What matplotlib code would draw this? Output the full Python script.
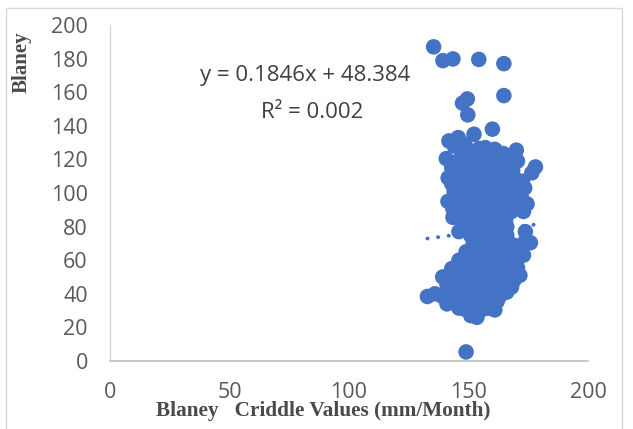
import matplotlib
matplotlib.use("Agg")
import matplotlib.pyplot as plt
from matplotlib.patches import Rectangle
import numpy as np

# Blaney-Criddle values (x) and Blaney values (y)
bc = [
    135.4, 139.3, 143.5, 154.3, 164.8, 164.8, 149.5, 147.5, 149.7, 160.0, 152.3, 149.0,
    141.8, 145.7, 144.0, 148.5,
    147.0, 151.5, 154.5, 157.0, 161.0, 164.5, 170.0,
    140.7, 143.5, 147.0, 150.5, 154.0, 157.5, 160.5, 163.5, 167.0, 170.5,
    143.0, 146.5, 152.0, 155.5, 158.5, 162.0, 165.5, 168.5, 176.5, 178.0,
    141.5, 145.0, 150.0, 153.0, 156.0, 159.5, 162.5, 166.0, 169.5, 172.5,
    143.0, 147.0, 151.0, 155.0, 158.0, 161.0, 164.0, 167.5, 170.5, 173.5,
    144.0, 149.0, 152.5, 157.0, 160.5, 163.0, 166.5, 169.5, 172.0,
    141.4, 144.5, 148.0, 151.0, 154.0, 157.0, 160.0, 163.5, 167.5, 170.5, 174.5,
    143.5, 146.8, 150.0, 153.0, 156.0, 159.0, 162.0, 165.0, 168.0, 173.0,
    143.5, 147.0, 150.5, 153.5, 156.5, 159.5, 162.5, 165.5,
    148.0, 151.0, 154.0, 157.0, 160.0, 163.0, 166.0,
    146.0, 151.0, 154.0, 157.0, 160.0, 163.0, 166.0, 173.8,
    152.0, 155.0, 158.0, 161.0, 164.0, 167.0, 170.0, 174.0, 175.9,
    149.0, 152.0, 155.0, 158.0, 161.0, 164.0, 167.0, 170.0, 173.0,
    146.0, 149.0, 152.0, 155.0, 158.0, 161.0, 164.0, 167.0, 170.0,
    143.0, 146.0, 149.0, 152.0, 155.0, 158.0, 161.0, 164.0, 167.0, 170.5,
    139.2, 142.0, 145.0, 148.0, 151.0, 154.0, 157.0, 160.0, 163.0, 166.0, 171.5, 169.0,
    141.0, 144.0, 147.0, 150.0, 153.0, 156.0, 159.0, 162.0, 165.0, 168.0,
    132.8, 136.0, 139.0, 142.0, 145.0, 148.0, 151.0, 154.0, 157.0, 160.0, 163.0, 166.0,
    141.0, 144.0, 147.0, 150.0, 153.0, 156.0, 159.0, 162.0,
    146.0, 149.0, 152.0, 155.0, 158.0, 161.0,
    151.0, 153.5,
]
blaney = [
    187.0, 178.8, 179.8, 179.5, 177.0, 158.0, 156.0, 153.5, 146.5, 138.0, 135.0, 5.4,
    131.0, 133.0, 128.0, 129.0,
    125.0, 124.0, 126.5, 127.0, 126.0, 123.5, 125.5,
    120.5, 118.0, 121.0, 119.0, 121.5, 119.5, 122.0, 118.5, 120.5, 119.0,
    115.0, 113.5, 115.5, 114.0, 116.0, 114.5, 116.5, 113.5, 112.0, 115.5,
    109.0, 110.5, 109.5, 111.0, 108.5, 110.0, 108.0, 110.5, 108.5, 107.0,
    105.5, 106.0, 104.5, 105.5, 103.5, 105.0, 103.5, 105.0, 104.0, 103.0,
    101.0, 100.0, 99.0, 100.5, 98.5, 100.0, 99.0, 100.5, 98.0,
    95.0, 96.5, 94.5, 96.0, 93.5, 95.5, 94.0, 95.0, 93.5, 95.5, 93.5,
    90.5, 90.0, 89.0, 91.0, 88.5, 90.0, 88.0, 90.5, 89.0, 89.0,
    85.5, 84.0, 85.5, 83.5, 85.0, 83.0, 85.0, 83.5,
    80.0, 79.0, 81.0, 78.5, 80.5, 78.0, 80.0,
    77.0, 74.5, 76.5, 74.0, 75.5, 73.5, 75.0, 77.0,
    70.0, 71.5, 69.5, 71.0, 69.0, 70.5, 68.5, 72.0, 70.4,
    65.0, 66.5, 64.5, 66.0, 64.0, 65.5, 63.5, 65.0, 63.0,
    60.0, 61.5, 59.0, 60.5, 58.5, 60.0, 61.0, 59.0, 58.0,
    55.0, 56.5, 54.0, 55.5, 53.5, 55.0, 54.0, 56.0, 54.5, 55.5,
    50.0, 51.5, 49.0, 50.5, 48.5, 50.0, 48.0, 50.5, 49.0, 51.0, 51.0, 48.0,
    45.5, 44.0, 46.0, 44.5, 45.5, 43.5, 45.0, 43.5, 45.5, 44.0,
    38.4, 40.0, 38.5, 40.5, 39.0, 40.5, 38.5, 40.0, 38.0, 40.0, 38.5, 41.0,
    34.0, 35.5, 34.5, 36.0, 34.0, 35.5, 34.0, 35.5,
    31.5, 30.5, 31.0, 30.0, 31.5, 30.4,
    27.0, 26.0,
]

slope = 0.1846
intercept = 48.384
r2_text = "0.002"
x_ticks = [0, 50, 100, 150, 200]
y_ticks = [0, 20, 40, 60, 80, 100, 120, 140, 160, 180, 200]

W, H = 633, 429
fig = plt.figure(figsize=(W / 100, H / 100), dpi=100)
ax = fig.add_axes([110 / W, 1 - 361 / H, (588 - 110) / W, (361 - 25) / H])

blue = "#4472C4"
ax.scatter(bc, blaney, s=125, color=blue, edgecolors="none", zorder=3)

xs = np.array([min(bc), max(bc)])
ax.plot(xs, slope * xs + intercept, color=blue, lw=2.8,
        linestyle=(0, (0.05, 2.7)), dash_capstyle="round", zorder=2)

ax.set_xlim(0, 200)
ax.set_ylim(0, 200)
ax.set_xticks(x_ticks)
ax.set_yticks(y_ticks)
tick_font = dict(family="Open Sans", size=15.5, color="#595959")
ax.set_xticklabels([str(v) for v in x_ticks], **tick_font)
ax.set_yticklabels([str(v) for v in y_ticks], **tick_font)
ax.tick_params(axis="both", length=0)
ax.tick_params(axis="x", pad=15)
ax.tick_params(axis="y", pad=16)
for s in ["top", "right"]:
    ax.spines[s].set_visible(False)
ax.spines["left"].set_color("#D9D9D9")
ax.spines["bottom"].set_color("#BFBFBF")
ax.spines["left"].set_linewidth(1.0)
ax.spines["bottom"].set_linewidth(1.2)
ax.patch.set_alpha(0)

fig.text(305 / W, 1 - 76 / H, f"y = {slope}x + {intercept}", ha="center", va="center",
         family="Open Sans", size=16, color="#404040")
fig.text(312 / W, 1 - 112 / H, f"R\u00b2 = {r2_text}", ha="center", va="center",
         family="Open Sans", size=16, color="#404040")

fig.text(323 / W, 1 - 411 / H, "Blaney   Criddle Values (mm/Month)", ha="center", va="center",
         family="Liberation Serif", weight="bold", size=15.3, color="#4a4a4a")
fig.text(22 / W, 1 - 62 / H, "Blaney", ha="center", va="center", rotation=90,
         family="Liberation Serif", weight="bold", size=15, color="#4a4a4a")

fig.patches.append(Rectangle((6 / W, -0.02), (622 - 6) / W, (429 - 8) / H + 0.02,
                             transform=fig.transFigure, fill=False,
                             edgecolor="#D9D9D9", lw=1.0))

fig.savefig("out.png", dpi=100)
